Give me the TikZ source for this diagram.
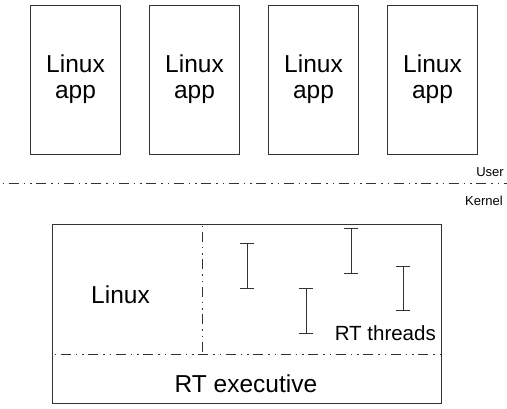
\documentclass[tikz,border=0pt]{standalone}
\usepackage{fontspec}
\setmainfont{Liberation Sans}
\usetikzlibrary{positioning,calc}

\begin{document}
\begin{tikzpicture}[
  x=1pt, y=-1pt,
  app/.style={draw, thick, draw=black!80, minimum width=90pt, minimum height=149pt,
              align=center, font=\fontsize{24.5}{26}\selectfont, inner sep=0pt},
  sect/.style={draw=black!80, thick, dash pattern=on 10pt off 5pt on 1.5pt off 5pt on 1.5pt off 4.5pt, dash phase=19pt},
  lab/.style={font=\fontsize{24.5}{28}\selectfont, inner sep=0pt, anchor=base},
  small/.style={font=\fontsize{13}{15}\selectfont, inner sep=0pt, anchor=base east},
  beam/.style={thick, draw=black!80}
]
\useasboundingbox (0,0) rectangle (507,408);

% user space applications
\node[app] (app1) at (75.5,79.5)  {Linux\\app};
\node[app] (app2) at (194.5,79.5) {Linux\\app};
\node[app] (app3) at (313.5,79.5) {Linux\\app};
\node[app] (app4) at (432.5,79.5) {Linux\\app};

% user / kernel boundary
\coordinate (bl) at (0,183);
\coordinate (br) at (507,183);
\draw[sect] (bl) -- (br);
\node[small] (user) at (504,176) {User};
\node[small] (kern) at (503,205) {Kernel};

% kernel box
\node[draw, thick, draw=black!80, minimum width=389pt, minimum height=179pt, inner sep=0pt]
  (kbox) at (246.5,313.5) {};
\coordinate (split) at (52,354);
\coordinate (splitE) at (441,354);
\coordinate (vtop) at (202,223);
\coordinate (vbot) at (202,354);
\draw[sect] (split) -- (splitE);
\draw[sect] (vtop) -- (vbot);

\node[lab] (linux) at (120.5,303) {Linux};
\node[lab] (exec) at (246,392) {RT executive};
\node[lab, anchor=base east, font=\fontsize{20.5}{24}\selectfont] (thr) at (436,340) {RT threads};

% real-time threads
\foreach \n/\x/\ya/\yb in {t1/247/243/288, t2/306/288/333, t3/351/228/273, t4/403/266/310} {
  \coordinate (\n a) at (\x,\ya);
  \coordinate (\n b) at (\x,\yb);
  \draw[beam] (\n a) -- (\n b);
  \draw[beam] ($(\n a)+(-7,0)$) -- ($(\n a)+(7,0)$);
  \draw[beam] ($(\n b)+(-7,0)$) -- ($(\n b)+(7,0)$);
}
\end{tikzpicture}
\end{document}
